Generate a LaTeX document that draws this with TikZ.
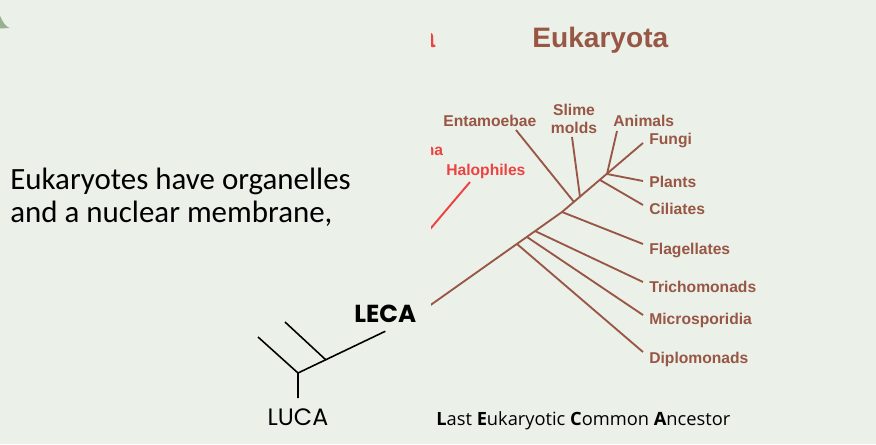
\documentclass[tikz,border=0pt]{standalone}
\usepackage{fontspec}
\setmainfont{Liberation Sans}
\newfontfamily\bodyfont{Carlito}
\newfontfamily\geofont{Poppins}
\newfontfamily\notefont{Open Sans}
\usetikzlibrary{positioning,calc}
\definecolor{slidebg}{RGB}{235,240,233}
\definecolor{treebrown}{RGB}{152,86,68}
\definecolor{archred}{RGB}{236,66,66}
\definecolor{leafgreen}{RGB}{150,178,142}

\begin{document}
\begin{tikzpicture}[x=0.02cm, y=-0.02cm,
        every node/.style={inner sep=0pt},
        taxon/.style={font=\fontsize{8.9}{10.5}\selectfont\bfseries, text=treebrown, anchor=base west},
        branch/.style={draw=treebrown, line width=1.05pt},
        ancestor/.style={draw=black, line width=0.9pt}]
        \fill[slidebg] (0,0) rectangle (876,444);
        \useasboundingbox (0,0) rectangle (876,444);
        \fill[leafgreen] (0,16) .. controls (3,22) and (5,26) .. (9.5,28) -- (0,28.5) -- cycle;

        % text on the slide
        \node[font=\bodyfont\fontsize{17.6}{18.6}\selectfont, anchor=base west, align=left] (claim) at (10,222) {Eukaryotes have organelles\\and a nuclear membrane,};

        % the tree of life, cut at its left edge
        \begin{scope}
        \clip (431,0) rectangle (876,444);
        \node[font=\fontsize{16}{18}\selectfont\bfseries, text=archred, anchor=base east] (arch) at (435.5,47) {a};
        \node[taxon, text=archred, anchor=base east] (msarc) at (443.5,155) {na};
        \node[taxon, text=archred] (halo) at (446,175) {Halophiles};
        \coordinate (haloroot) at (420,241);
        \coordinate (halotip) at (470,182);
        \draw[draw=archred, line width=1.1pt] (haloroot) -- (halotip);

        \node[font=\fontsize{16}{18}\selectfont\bfseries, text=treebrown, anchor=base west] (euk) at (532,47) {Eukaryota};
        \node[taxon] (ent) at (443,126) {Entamoebae};
        \node[taxon, anchor=south, align=center] (slm) at (574,134) {Slime\\molds};
        \node[taxon] (ani) at (613,126) {Animals};
        \node[taxon] (fun) at (649,144) {Fungi};
        \node[taxon] (pla) at (649,187) {Plants};
        \node[taxon] (cil) at (649,214) {Ciliates};
        \node[taxon] (fla) at (649,254) {Flagellates};
        \node[taxon] (tri) at (649,292) {Trichomonads};
        \node[taxon] (mic) at (649,324) {Microsporidia};
        \node[taxon] (dip) at (649,363) {Diplomonads};

        \coordinate (root) at (420,312.5);
        \coordinate (bdip) at (517,244);
        \coordinate (bmic) at (527,237);
        \coordinate (btri) at (535,231);
        \coordinate (bfla) at (562,212);
        \coordinate (bent) at (574,202);
        \coordinate (bslm) at (580,197);
        \coordinate (bcil) at (600,180);
        \coordinate (bcrown) at (607,174);

        \coordinate (tent) at (516,130);
        \coordinate (tslm) at (572,137);
        \coordinate (tani) at (617,131);
        \coordinate (tfun) at (643,143);
        \coordinate (tpla) at (643,181);
        \coordinate (tcil) at (643,205);
        \coordinate (tfla) at (643,244);
        \coordinate (ttri) at (643,282);
        \coordinate (tmic) at (643,315);
        \coordinate (tdip) at (643,352);

        \draw[branch] (root) -- (bfla) -- (tfun);
        \draw[branch] (bdip) -- (tdip);
        \draw[branch] (bmic) -- (tmic);
        \draw[branch] (btri) -- (ttri);
        \draw[branch] (bfla) -- (tfla);
        \draw[branch] (bent) -- (tent);
        \draw[branch] (bslm) -- (tslm);
        \draw[branch] (bcil) -- (tcil);
        \draw[branch] (bcrown) -- (tani);
        \draw[branch] (bcrown) -- (tpla);
        \end{scope}

        % LUCA to LECA
        \node[font=\geofont\fontsize{13.5}{15}\selectfont, anchor=base, inner ysep=5.5pt] (luca) at (298,425) {LUCA};
        \node[font=\geofont\bfseries\fontsize{14}{16}\selectfont, anchor=base west, inner ysep=5pt] (leca) at (354,322) {LECA};
        \coordinate (fork) at (298,373);
        \coordinate (knot) at (326,360);
        \coordinate (twigA) at (258,337);
        \coordinate (twigB) at (285,322);
        \draw[ancestor] (luca.north) -- (fork) -- (leca.south);
        \draw[ancestor] (fork) -- (twigA);
        \draw[ancestor] (knot) -- (twigB);

        \node[font=\notefont\fontsize{10.4}{12}\selectfont, anchor=base west] (expand) at (436,425) {\textbf{L}ast \textbf{E}ukaryotic \textbf{C}ommon \textbf{A}ncestor};
    \end{tikzpicture}
\end{document}
